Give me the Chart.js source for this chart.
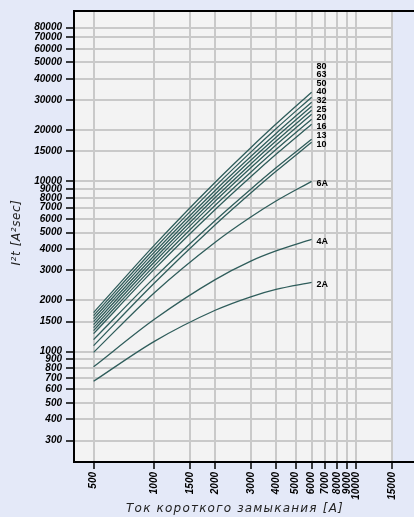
<!DOCTYPE html>
<html>
<head>
<meta charset="utf-8">
<script src="https://cdn.jsdelivr.net/npm/chart.js@4.4.1/dist/chart.umd.min.js"></script>
<style>
  html, body { margin: 0; padding: 0; background: #e4e9f8; }
  canvas { display: block; }
</style>
</head>
<body>
<canvas id="fuse_chart" width="414" height="517"></canvas>
<script>
// short-circuit current, A
const currents = [500, 1000, 2000, 3000, 4000, 6000];
const x_ticks = [500, 1000, 1500, 2000, 3000, 4000, 5000, 6000, 7000, 8000, 9000, 10000, 15000];
const y_ticks = [300, 400, 500, 600, 700, 800, 900, 1000, 1500, 2000, 3000, 4000, 5000, 6000,
  7000, 8000, 9000, 10000, 15000, 20000, 30000, 40000, 50000, 60000, 70000, 80000];

// let-through I2t per rating, A2s
const ratings = ["2A", "4A", "6A", "10", "13", "16", "20", "25", "32", "40", "50", "63", "80"];
const i2t_2 = [670, 1150, 1750, 2100, 2320, 2550];
const i2t_4 = [815, 1550, 2650, 3400, 3900, 4560];
const i2t_6 = [990, 2220, 4390, 6170, 7660, 10000];
const i2t_10 = [1085, 2530, 5560, 8540, 11450, 16960];
const i2t_13 = [1177, 2720, 5890, 8990, 12000, 17660];
const i2t_16 = [1276, 3050, 6840, 10650, 14410, 21640];
const i2t_20 = [1329, 3200, 7230, 11310, 15360, 23160];
const i2t_25 = [1384, 3360, 7650, 12010, 16360, 24780];
const i2t_32 = [1442, 3510, 8030, 12630, 17230, 26160];
const i2t_40 = [1501, 3670, 8420, 13290, 18150, 27610];
const i2t_50 = [1564, 3840, 8840, 13980, 19110, 29150];
const i2t_63 = [1628, 4020, 9340, 14840, 20370, 31200];
const i2t_80 = [1696, 4220, 9880, 15760, 21700, 33390];
const curves = [i2t_2, i2t_4, i2t_6, i2t_10, i2t_13, i2t_16, i2t_20, i2t_25,
  i2t_32, i2t_40, i2t_50, i2t_63, i2t_80];

const line_color = "#2f5d5b";
const tick_font = { family: "Liberation Sans", size: 10, weight: "bold", style: "italic" };

const backdrop = {
  id: "backdrop",
  beforeDraw: (chart) => {
    const { ctx, chartArea: a } = chart;
    ctx.save();
    ctx.fillStyle = "#e4e9f8";
    ctx.fillRect(0, 0, chart.width, chart.height);
    ctx.fillStyle = "#f3f3f3";
    ctx.fillRect(a.left, a.top, a.right - a.left, a.bottom - a.top);
    ctx.restore();
  },
  afterDraw: (chart) => {
    const { ctx, chartArea: a } = chart;
    ctx.save();
    // frame lines run out to the right edge
    ctx.strokeStyle = "#000";
    ctx.lineWidth = 2;
    ctx.beginPath();
    ctx.moveTo(a.left - 1, a.top);
    ctx.lineTo(chart.width, a.top);
    ctx.moveTo(a.right, a.bottom);
    ctx.lineTo(chart.width, a.bottom);
    ctx.stroke();

    // axis titles
    ctx.fillStyle = "#222";
    ctx.font = 'italic 12px "DejaVu Sans"';
    ctx.textAlign = "center";
    ctx.textBaseline = "middle";
    ctx.letterSpacing = "1.2px";
    ctx.fillText("Ток короткого замыкания [A]", (a.left + a.right) / 2 + 2, 509);
    ctx.letterSpacing = "0.6px";
    ctx.translate(17, (a.top + a.bottom) / 2 - 4);
    ctx.rotate(-Math.PI / 2);
    ctx.fillText("I²t [A²sec]", 0, 0);
    ctx.restore();
  },
};

const curve_labels = {
  id: "curve_labels",
  afterDatasetsDraw: (chart) => {
    const { ctx } = chart;
    const ends = chart.data.datasets.map((ds, i) => {
      const pts = chart.getDatasetMeta(i).data;
      const p = pts[pts.length - 1];
      return { x: p.x, y: p.y, text: ds.label };
    });
    // bottom first, push the crowded ones upward
    ends.sort((a, b) => b.y - a.y);
    ctx.save();
    ctx.fillStyle = "#000";
    ctx.font = 'bold 9px "Liberation Sans"';
    ctx.textAlign = "left";
    ctx.textBaseline = "middle";
    let prev = Infinity;
    ends.forEach((e) => {
      const y = Math.min(e.y + 2, prev - 8.6);
      ctx.fillText(e.text, e.x + 5, y);
      prev = y;
    });
    ctx.restore();
  },
};

const data_fuse = {
  datasets: curves.map((values, i) => ({
    label: ratings[i],
    data: values.map((v, j) => ({ x: currents[j], y: v })),
    borderColor: line_color,
    borderWidth: 1.3,
    pointRadius: 0,
    fill: false,
    cubicInterpolationMode: "monotone",
  })),
};

const config_fuse = {
  type: "line",
  data: data_fuse,
  options: {
    responsive: false,
    animation: false,
    layout: { padding: { top: 11, right: 22, left: 0, bottom: 0 } },
    plugins: {
      legend: { display: false },
      tooltip: { enabled: false },
    },
    scales: {
      x: {
        type: "logarithmic",
        min: 400,
        max: 15000,
        afterBuildTicks: (scale) => {
          scale.ticks = x_ticks.map((v) => ({ value: v }));
        },
        afterFit: (scale) => {
          scale.height = 55;
        },
        ticks: {
          autoSkip: false,
          minRotation: 90,
          maxRotation: 90,
          padding: 3,
          color: "#000",
          font: tick_font,
          callback: (v) => String(v),
        },
        grid: { color: "#c9c9c9", lineWidth: 2, tickColor: "#000", tickLength: 7, tickWidth: 1.5 },
        border: { color: "#000", width: 2 },
      },
      y: {
        type: "logarithmic",
        min: 225,
        max: 100000,
        afterBuildTicks: (scale) => {
          scale.ticks = y_ticks.map((v) => ({ value: v }));
        },
        afterFit: (scale) => {
          scale.width = 74;
        },
        ticks: {
          autoSkip: false,
          padding: 4,
          color: "#000",
          font: tick_font,
          callback: (v) => String(v),
        },
        grid: { color: "#c9c9c9", lineWidth: 2, tickColor: "#000", tickLength: 8, tickWidth: 1.5 },
        border: { color: "#000", width: 2 },
      },
    },
  },
  plugins: [backdrop, curve_labels],
};

var ctx_fuse = document.getElementById("fuse_chart");
var fuse_chart = new Chart(ctx_fuse, config_fuse);
</script>
</body>
</html>
